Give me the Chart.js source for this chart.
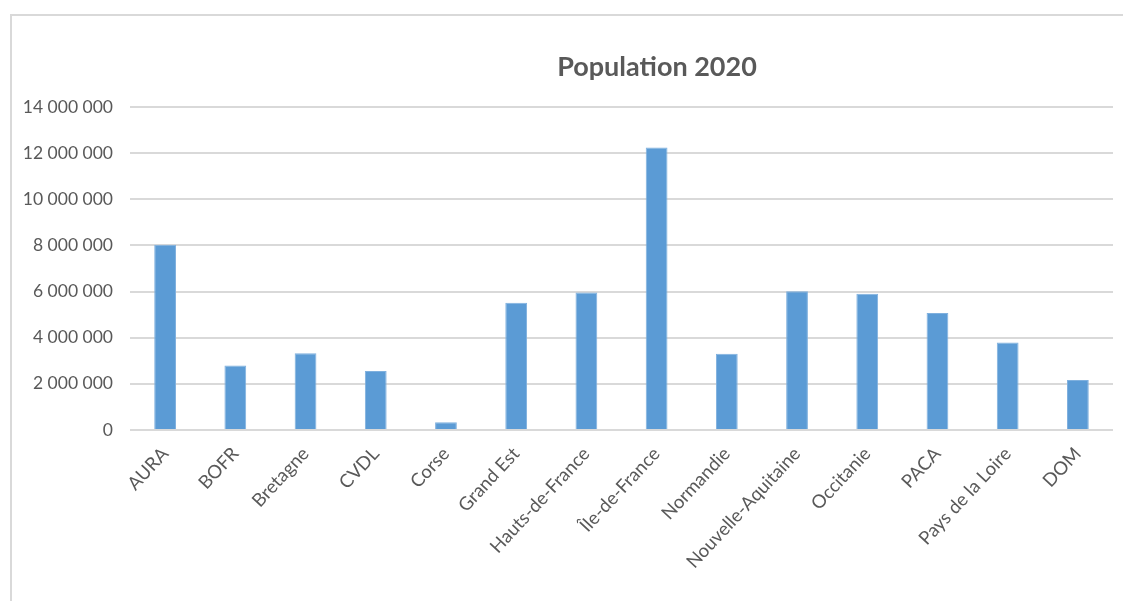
<!DOCTYPE html>
<html>
<head>
<meta charset="utf-8">
<script src="https://cdn.jsdelivr.net/npm/chart.js@4/dist/chart.umd.min.js"></script>
<style>
  html, body { margin: 0; padding: 0; background: #fff; overflow: hidden; }
  #frame { position: absolute; left: 10px; top: 14px; width: 1300px; height: 700px; border: 2px solid #d9d9d9; }
  #wrap { position: absolute; left: 0; top: 0; width: 1123px; height: 601px; }
</style>
</head>
<body>
<div id="frame"></div>
<div id="wrap"><canvas id="chart"></canvas></div>
<script>
// regions and their 2020 population
const regions = ['AURA', 'BOFR', 'Bretagne', 'CVDL', 'Corse', 'Grand Est', 'Hauts-de-France',
  'Île-de-France', 'Normandie', 'Nouvelle-Aquitaine', 'Occitanie', 'PACA', 'Pays de la Loire', 'DOM']
const population = [8030000, 2800000, 3330000, 2560000, 340000, 5520000, 5960000,
  12250000, 3310000, 6010000, 5910000, 5070000, 3790000, 2170000]
const yTicks = [0, 2000000, 4000000, 6000000, 8000000, 10000000, 12000000, 14000000]

const fmt = v => String(v).replace(/\B(?=(\d{3})+(?!\d))/g, ' ')

const FONT = 'Lato, "Open Sans", sans-serif'
const GREY = '#595959'

// title sits over the whole (wider) chart frame, not the plot area
const titlePlugin = {
  id: 'frameTitle',
  afterDraw(chart) {
    const ctx = chart.ctx
    ctx.save()
    ctx.font = `bold 27px ${FONT}`
    ctx.fillStyle = GREY
    ctx.textAlign = 'center'
    ctx.textBaseline = 'middle'
    ctx.fillText('Population 2020', 657, 67)
    ctx.restore()
  }
}

new Chart(document.getElementById('chart'), {
  type: 'bar',
  data: {
    labels: regions,
    datasets: [{
      label: 'Population 2020',
      data: population,
      backgroundColor: '#5B9BD5',
      borderColor: '#7fb0de',
      borderWidth: 1,
      barPercentage: 0.31,
      categoryPercentage: 1
    }]
  },
  options: {
    responsive: true,
    maintainAspectRatio: false,
    animation: false,
    layout: { padding: { top: 107, right: 10, left: 0, bottom: 0 } },
    plugins: {
      legend: { display: false },
      title: { display: false },
      tooltip: { enabled: false }
    },
    scales: {
      x: {
        grid: { display: false },
        border: { display: false },
        ticks: {
          color: GREY,
          font: { family: FONT, size: 18.5 },
          minRotation: 47,
          maxRotation: 47,
          padding: 5
        },
        afterFit(scale) { scale.height = 171 }
      },
      y: {
        min: 0,
        max: 14000000,
        afterBuildTicks(scale) { scale.ticks = yTicks.map(v => ({ value: v })) },
        grid: { color: '#d9d9d9', lineWidth: 2, drawTicks: false },
        border: { display: false },
        ticks: {
          color: GREY,
          font: { family: FONT, size: 17.5 },
          padding: 17,
          callback: v => fmt(v)
        },
        afterFit(scale) { scale.width = 130 }
      }
    }
  },
  plugins: [titlePlugin]
})
</script>
</body>
</html>
